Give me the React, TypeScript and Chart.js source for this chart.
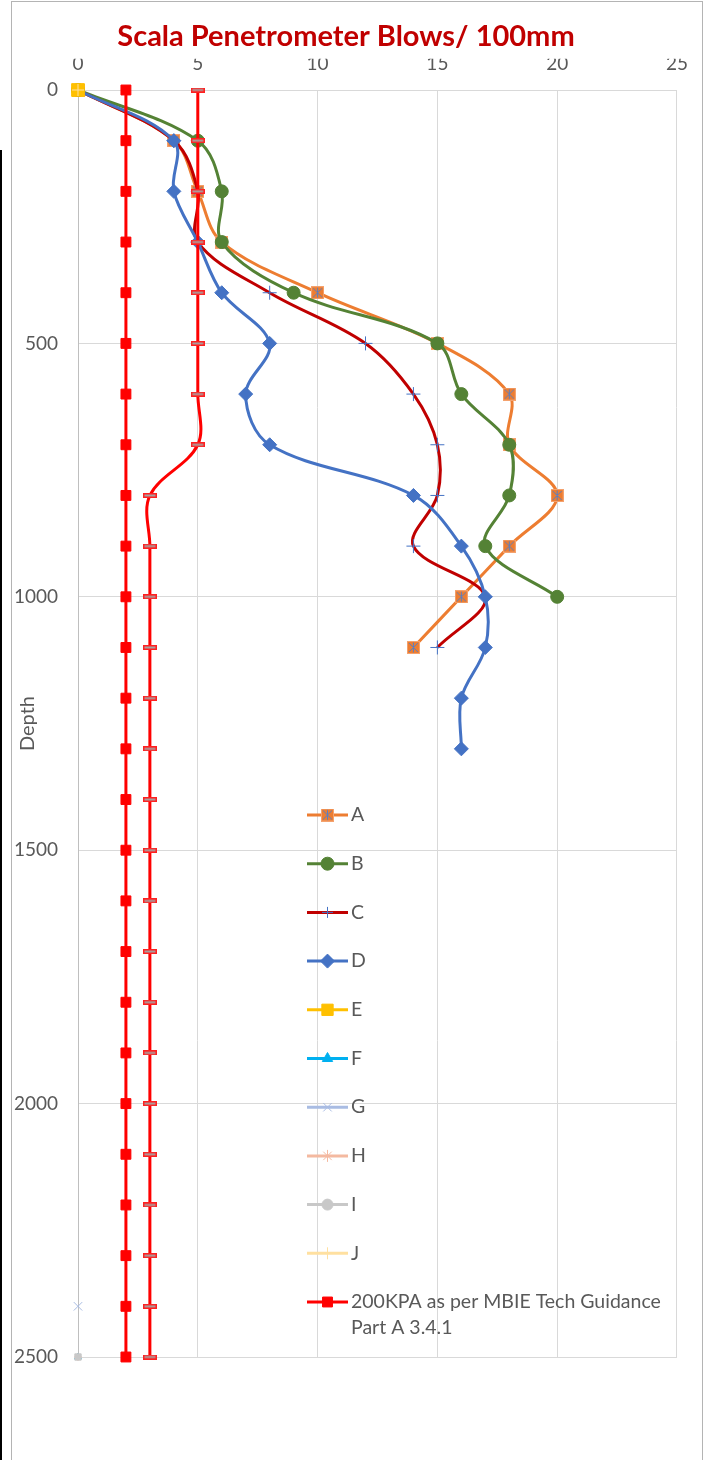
import React, { useEffect, useRef } from 'react';
import { Chart, registerables } from 'chart.js';
import { drawPoint } from 'chart.js/helpers';

Chart.register(...registerables);

// ---------- data ----------
const depths = [0, 100, 200, 300, 400, 500, 600, 700, 800, 900, 1000, 1100, 1200, 1300, 1400, 1500, 1600, 1700, 1800, 1900, 2000, 2100, 2200, 2300, 2400, 2500];

const blowsA = [0, 4, 5, 6, 10, 15, 18, 18, 20, 18, 16, 14];
const blowsB = [0, 5, 6, 6, 9, 15, 16, 18, 18, 17, 20];
const blowsC = [0, 4, 5, 5, 8, 12, 14, 15, 15, 14, 17, 15];
const blowsD = [0, 4, 4, 5, 6, 8, 7, 8, 14, 16, 17, 17, 16, 16];

const blowsE = [0];
const depthsE = [0];
const blowsF = [0];
const depthsF = [2500];
const blowsG = [0];
const depthsG = [2400];
const blowsH = [0];
const depthsH = [2500];
const blowsI = [0];
const depthsI = [2500];
const blowsJ = [0];
const depthsJ = [0];

const kpaBlows = [2, 2, 2, 2, 2, 2, 2, 2, 2, 2, 2, 2, 2, 2, 2, 2, 2, 2, 2, 2, 2, 2, 2, 2, 2, 2];
const limitBlows = [5, 5, 5, 5, 5, 5, 5, 5, 3, 3, 3, 3, 3, 3, 3, 3, 3, 3, 3, 3, 3, 3, 3, 3, 3, 3];

const seriesLabels = ['A', 'B', 'C', 'D', 'E', 'F', 'G', 'H', 'I', 'J'];
const kpaLabel = '200KPA as per MBIE Tech Guidance Part A 3.4.1';

const xTickStep = 5;
const xMax = 25;
const yTickStep = 500;
const yMax = 2500;

const titleText = 'Scala Penetrometer Blows/ 100mm';
const yTitle = 'Depth';

// ---------- helpers ----------
const pts = (xs: number[], ys: number[]) => xs.map((x, i) => ({ x, y: ys[i] }));

function makeMarkerA(): HTMLCanvasElement {
  const c = document.createElement('canvas');
  c.width = 13;
  c.height = 13;
  const g = c.getContext('2d')!;
  g.fillStyle = '#ED7D31';
  g.fillRect(0, 0, 13, 13);
  g.strokeStyle = '#F4A26E';
  g.lineWidth = 1;
  g.strokeRect(0.5, 0.5, 12, 12);
  g.strokeStyle = '#5B7FC0';
  g.lineWidth = 1;
  g.beginPath();
  g.moveTo(2, 2);
  g.lineTo(11, 11);
  g.moveTo(11, 2);
  g.lineTo(2, 11);
  g.moveTo(6.5, 1.5);
  g.lineTo(6.5, 11.5);
  g.stroke();
  return c;
}

function makeMarkerDash(): HTMLCanvasElement {
  const c = document.createElement('canvas');
  c.width = 14;
  c.height = 5;
  const g = c.getContext('2d')!;
  g.fillStyle = '#FF2020';
  g.fillRect(0, 0, 14, 5);
  g.fillStyle = '#A8A0A0';
  g.fillRect(1.5, 1.5, 11, 2);
  return c;
}

const legendPlugin = {
  id: 'insideLegend',
  afterDatasetsDraw(chart: any) {
    const { ctx, chartArea } = chart;
    ctx.save();
    const lineX0 = chartArea.left + 229;
    const lineX1 = chartArea.left + 270;
    const textX = chartArea.left + 273;
    const firstY = chartArea.top + 725;
    const step = 48.7;
    const maxW = chartArea.right - textX - 4;
    ctx.font = '19.5px Lato';
    ctx.textBaseline = 'middle';
    ctx.textAlign = 'left';
    let idx = 0;
    chart.data.datasets.forEach((ds: any) => {
      if (ds.hideInLegend) return;
      const y = firstY + idx * step;
      ctx.strokeStyle = ds.borderColor;
      ctx.lineWidth = ds.borderWidth;
      ctx.lineCap = 'butt';
      ctx.beginPath();
      ctx.moveTo(lineX0, y);
      ctx.lineTo(lineX1, y);
      ctx.stroke();
      ctx.fillStyle = ds.pointBackgroundColor;
      ctx.strokeStyle = ds.pointBorderColor;
      ctx.lineWidth = ds.pointBorderWidth;
      drawPoint(ctx, { pointStyle: ds.pointStyle, radius: ds.legendRadius ?? ds.pointRadius, rotation: 0, borderWidth: ds.pointBorderWidth } as any, (lineX0 + lineX1) / 2, y);
      // wrapped text
      ctx.fillStyle = '#595959';
      const words = String(ds.label).split(' ');
      const lines: string[] = [];
      let cur = '';
      words.forEach((w) => {
        const test = cur ? cur + ' ' + w : w;
        if (ctx.measureText(test).width > maxW && cur) {
          lines.push(cur);
          cur = w;
        } else {
          cur = test;
        }
      });
      if (cur) lines.push(cur);
      lines.forEach((ln, li) => ctx.fillText(ln, textX, y + li * 26));
      idx++;
    });
    ctx.restore();
  },
};

export default function App() {
  const ref = useRef<HTMLCanvasElement | null>(null);

  useEffect(() => {
    if (!ref.current) return;
    const markerA = makeMarkerA();
    const markerDash = makeMarkerDash();

    const base = (label: string, data: any[], color: string, extra: any) => ({
      label,
      data,
      showLine: true,
      clip: false,
      borderColor: color,
      backgroundColor: color,
      borderWidth: 3,
      tension: 0.35,
      pointBackgroundColor: color,
      pointBorderColor: color,
      pointBorderWidth: 1,
      pointRadius: 6.5,
      ...extra,
    });

    const datasets: any[] = [
      base(seriesLabels[0], pts(blowsA, depths), '#ED7D31', { pointStyle: markerA }),
      base(seriesLabels[1], pts(blowsB, depths), '#548235', { pointStyle: 'circle', pointRadius: 6.5 }),
      base(seriesLabels[2], pts(blowsC, depths), '#C00000', { pointStyle: 'cross', pointRadius: 7, legendRadius: 5.5, pointBorderColor: '#4472C4', pointBackgroundColor: '#4472C4' }),
      base(seriesLabels[3], pts(blowsD, depths), '#4472C4', { pointStyle: 'rectRot', pointRadius: 7 }),
      base(seriesLabels[4], pts(blowsE, depthsE), '#FFC000', { pointStyle: 'rect', pointRadius: 9, legendRadius: 8 }),
      base(seriesLabels[5], pts(blowsF, depthsF), '#00B0F0', { pointStyle: 'triangle', pointRadius: 4, legendRadius: 6 }),
      base(seriesLabels[6], pts(blowsG, depthsG), '#A9BCE3', { pointStyle: 'crossRot', pointRadius: 6 }),
      base(seriesLabels[7], pts(blowsH, depthsH), '#F4B9A0', { pointStyle: 'star', pointRadius: 4, legendRadius: 6 }),
      base(seriesLabels[8], pts(blowsI, depthsI), '#C8C8C8', { pointStyle: 'rect', pointRadius: 4.5, legendRadius: 5.5, legendStyle: 'circle' }),
      base(seriesLabels[9], pts(blowsJ, depthsJ), '#FFE0A0', { pointStyle: 'cross', pointRadius: 6 }),
      base(kpaLabel, pts(kpaBlows, depths), '#FF0000', { pointStyle: 'rect', pointRadius: 7 }),
      base('200KPA limit', pts(limitBlows, depths), '#FF0000', { pointStyle: markerDash, pointRadius: 6, hideInLegend: true }),
    ];
    // I uses circle in legend
    datasets[8].legendPointStyle = 'circle';
    const n = datasets.length;
    datasets.forEach((d, i) => (d.order = n - i));

    const legendWithStyles = {
      ...legendPlugin,
      afterDatasetsDraw(chart: any) {
        const saved = chart.data.datasets.map((d: any) => d.pointStyle);
        chart.data.datasets.forEach((d: any) => { if (d.legendPointStyle) d.pointStyle = d.legendPointStyle; });
        legendPlugin.afterDatasetsDraw(chart);
        chart.data.datasets.forEach((d: any, i: number) => { d.pointStyle = saved[i]; });
      },
    };

    const chart = new Chart(ref.current, {
      type: 'scatter',
      data: { datasets },
      plugins: [legendWithStyles],
      options: {
        animation: false,
        responsive: false,
        devicePixelRatio: 1,
        layout: { padding: { left: 0, right: 23, top: 0, bottom: 103 } },
        plugins: {
          legend: { display: false },
          tooltip: { enabled: false },
          title: {
            display: true,
            text: titleText,
            color: '#C00000',
            font: { family: 'Lato', size: 29, weight: 'bold' },
            padding: { top: 17, bottom: 5 },
          },
        },
        scales: {
          x: {
            type: 'linear',
            position: 'top',
            min: 0,
            max: xMax,
            ticks: { stepSize: xTickStep, color: '#595959', font: { family: 'Lato', size: 19 }, padding: 15, callback: (v: any) => String(v) },
            grid: { color: '#D9D9D9', lineWidth: 1, drawTicks: false },
            border: { display: true, color: '#D9D9D9' },
            afterFit: (s: any) => { s.height = 31.2; },
          },
          y: {
            type: 'linear',
            reverse: true,
            min: 0,
            max: yMax,
            ticks: { stepSize: yTickStep, color: '#595959', font: { family: 'Lato', size: 19 }, padding: 20, callback: (v: any) => String(v) },
            grid: { color: '#D9D9D9', lineWidth: 1, drawTicks: false },
            border: { display: true, color: '#BFBFBF' },
            title: { display: true, text: yTitle, color: '#595959', font: { family: 'Lato', size: 20 }, padding: { top: 4, bottom: 0 } },
            afterFit: (s: any) => { s.width = 66; },
          },
        },
      } as any,
    });
    return () => chart.destroy();
  }, []);

  return (
    <div style={{ position: 'fixed', left: 0, top: 0, width: 709, height: 1460, overflow: 'hidden', background: '#fff' }}>
      <div style={{ position: 'absolute', left: 0, top: 150, width: 2, height: 1310, background: '#000' }} />
      <div style={{ position: 'absolute', left: 11, top: 1, width: 692, height: 1500, border: '1px solid #B4B4B4', boxSizing: 'border-box' }} />
      <canvas ref={ref} width={691} height={1458} style={{ position: 'absolute', left: 12, top: 2, display: 'block' }} />
    </div>
  );
}
